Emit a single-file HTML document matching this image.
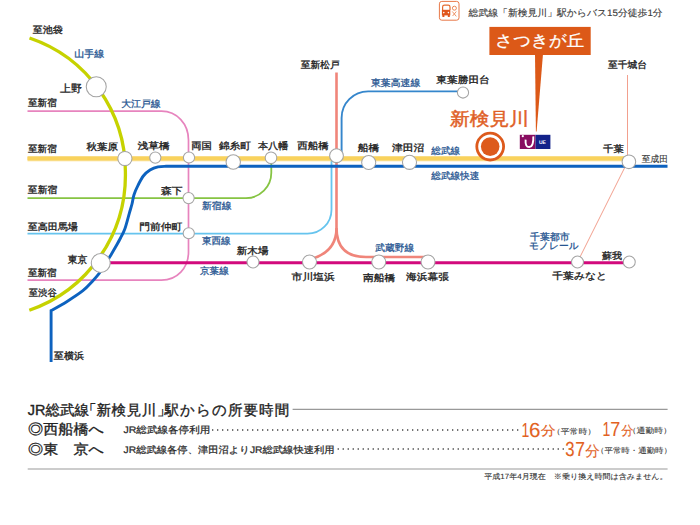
<!DOCTYPE html>
<html lang="ja">
<head>
<meta charset="utf-8">
<style>
html,body{margin:0;padding:0;background:#fff;width:700px;height:525px;overflow:hidden}
svg{display:block;font-family:"Liberation Sans",sans-serif;text-rendering:geometricPrecision}
.k{fill:#222;font-size:10px;stroke:#222;stroke-width:0.25}
.b{fill:#2f5f9c;font-size:10px;stroke:#2f5f9c;stroke-width:0.2}
</style>
</head>
<body>
<svg width="700" height="525" viewBox="0 0 700 525">
<!-- lines -->
<g fill="none" stroke-linecap="butt">
  <!-- Oedo -->
  <path d="M27.5 111.1 H161.5 C177 111.1 188.5 124 188.5 140 V252 C188.5 268 177 280.1 161.5 280.1 H27.5" stroke="#e784be" stroke-width="1.7"/>
  <!-- Shinjuku -->
  <path d="M27.5 198.2 H246 A25.5 25.5 0 0 0 271.3 172.7 V158" stroke="#86c443" stroke-width="1.8"/>
  <!-- Tozai -->
  <path d="M27.5 233.7 H307.5 A24 24 0 0 0 331.5 209.7 V156" stroke="#66c4ee" stroke-width="1.8"/>
  <!-- Toyo -->
  <path d="M341.6 156 V118 A26.5 26.5 0 0 1 368.1 91.4 H463" stroke="#3586cc" stroke-width="1.9"/>
  <!-- Monorail -->
  <path d="M627.5 75 V162 L577.5 262" stroke="#f2a08e" stroke-width="1"/>
  <!-- Musashino -->
  <path d="M336.5 72.5 V228 Q336.5 252 311 259" stroke="#f0857a" stroke-width="2.6"/>
  <path d="M336.5 228 Q336.5 257 366 257 H426" stroke="#f0857a" stroke-width="2.6"/>
  <!-- Keiyo -->
  <path d="M101 262.8 H629" stroke="#d20a7c" stroke-width="3"/>
  <!-- Sobu yellow -->
  <path d="M27.5 158.6 H628" stroke="#f9dc84" stroke-width="5.3"/><path d="M27.5 158.6 H628" stroke="#f9d25c" stroke-width="3"/>
  <!-- Sobu rapid blue -->
  <path d="M51.1 362 V310.6 C53.8 309.1 61.8 304.7 67.1 301.4 C72.4 298.1 78.6 294.1 82.9 290.7 C87.2 287.2 90.3 283.4 92.9 280.7 C95.5 277.9 96.7 276.7 98.6 274.2 C100.5 271.7 102.5 268.6 104.5 265.5 C106.5 262.4 108.5 258.9 110.3 255.9 C112.1 252.9 113.7 250.3 115.4 247.3 C117.1 244.3 119.0 241.0 120.5 238.0 C122.0 235.0 123.2 233.4 124.7 229.3 C126.2 225.2 128.1 217.5 129.3 213.3 C130.5 209.1 131.2 207.1 132.0 204.0 C132.8 200.9 133.0 197.8 134.0 194.7 C135.0 191.6 136.4 188.4 138.0 185.3 C139.6 182.2 141.3 178.6 143.3 176.0 C145.3 173.4 147.6 171.5 150.0 170.0 C152.4 168.5 155.3 167.4 158.0 166.8 C160.7 166.2 164.7 166.4 166.0 166.3 H667.5" stroke="#0d62bf" stroke-width="2.9"/>
  <!-- Yamanote -->
  <path d="M29.5 38 A141.2 141.2 0 0 1 125.4 172.5 A142.95 142.95 0 0 1 29.3 310.2" stroke="#c6d200" stroke-width="3.3"/>
</g>
<!-- stations -->
<g fill="#fff" stroke="#a4a4a4" stroke-width="1.05">
  <circle cx="96.25" cy="86.75" r="10"/>
  <circle cx="124.9" cy="158.5" r="7.1"/>
  <circle cx="155.3" cy="157.6" r="5.6"/>
  <circle cx="189" cy="157.5" r="5.6"/>
  <circle cx="233.25" cy="162" r="7.2"/>
  <circle cx="271" cy="157.75" r="5.8"/>
  <circle cx="336.5" cy="155.7" r="6.9"/>
  <circle cx="368.7" cy="162.5" r="7.05"/>
  <circle cx="409.5" cy="162.3" r="7.05"/>
  <circle cx="628.9" cy="161.8" r="6.8"/>
  <circle cx="463" cy="92.5" r="5.6"/>
  <circle cx="188.6" cy="198.1" r="5.6"/>
  <circle cx="188.75" cy="233.25" r="5.6"/>
  <circle cx="100.75" cy="263" r="9.5"/>
  <circle cx="253" cy="262" r="6"/>
  <circle cx="309.5" cy="262" r="7"/>
  <circle cx="378.75" cy="262" r="7"/>
  <circle cx="428" cy="262" r="7"/>
  <circle cx="577.5" cy="262" r="6"/>
  <circle cx="629.25" cy="262" r="6"/>
</g>
<!-- Shin-kemigawa -->
<circle cx="490.2" cy="146.6" r="13.4" fill="#fff" stroke="#dd5a1c" stroke-width="2.8"/>
<circle cx="490.2" cy="146.6" r="9.3" fill="#dd5a1c"/>
<!-- callout -->
<rect x="489.4" y="26.9" width="101.3" height="28.1" fill="#dc5918"/>
<path d="M535 54 L543 54 L536.6 131.5 L535.9 131.5 Z" fill="#dc5918"/>
<!-- UE logo -->
<rect x="519.8" y="134.8" width="15.7" height="14.2" fill="#880c60"/>
<rect x="535.5" y="134.8" width="14.9" height="14.2" fill="#13228a"/>
<text x="539" y="144" font-size="5" fill="#fff" font-weight="bold" font-family="Liberation Sans">UE</text>
<path d="M525.6 139.6 C525.2 145 526.6 147 529.2 147 C532.6 147 533.6 142 533.3 136.4" fill="none" stroke="#fff" stroke-width="1.9"/>
<circle cx="522.8" cy="136.2" r="1.1" fill="#fff"/>
<!-- bus icon -->
<rect x="439.4" y="1.4" width="19.6" height="18.8" rx="2.4" fill="#fff" stroke="#e87848" stroke-width="1"/>
<path d="M442.6 10 V7 Q442.6 5.2 444.5 5.2 H448.2 Q450 5.2 450 7 V10" fill="none" stroke="#e46a2e" stroke-width="1.2"/>
<rect x="441.9" y="9.8" width="8.4" height="5.6" fill="#e0561c"/>
<rect x="442.4" y="15" width="2" height="2" fill="#e0561c"/>
<rect x="447.8" y="15" width="2" height="2" fill="#e0561c"/>
<circle cx="443.8" cy="12.6" r="0.8" fill="#fff"/>
<circle cx="448.4" cy="12.6" r="0.8" fill="#fff"/>
<circle cx="454.4" cy="8.2" r="2" fill="none" stroke="#e87a45" stroke-width="0.9"/>
<path d="M452.3 11.5 L456.3 16.4 M456.3 11.5 L452.6 16" stroke="#ec8a5a" stroke-width="0.9"/>
<!-- labels -->
<text transform="matrix(1.000 0 0 0.950 32.85 32.85)" font-size="10" fill="#1e1e1e" stroke="#1e1e1e" stroke-width="0.35">至池袋</text>
<text transform="matrix(1.000 0 0 0.950 60.06 92.33)" font-size="11" fill="#1e1e1e" stroke="#1e1e1e" stroke-width="0.35">上野</text>
<text transform="matrix(0.958 0 0 0.950 28.03 106.40)" font-size="10" fill="#1e1e1e" stroke="#1e1e1e" stroke-width="0.35">至新宿</text>
<text transform="matrix(0.958 0 0 0.950 28.03 152.40)" font-size="10" fill="#1e1e1e" stroke="#1e1e1e" stroke-width="0.35">至新宿</text>
<text transform="matrix(1.049 0 0 0.950 86.42 150.28)" font-size="10" fill="#1e1e1e" stroke="#1e1e1e" stroke-width="0.35">秋葉原</text>
<text transform="matrix(1.080 0 0 0.950 137.40 149.32)" font-size="10" fill="#1e1e1e" stroke="#1e1e1e" stroke-width="0.35">浅草橋</text>
<text transform="matrix(1.027 0 0 0.950 191.19 148.85)" font-size="10" fill="#1e1e1e" stroke="#1e1e1e" stroke-width="0.35">両国</text>
<text transform="matrix(1.065 0 0 0.950 218.94 148.85)" font-size="10" fill="#1e1e1e" stroke="#1e1e1e" stroke-width="0.35">錦糸町</text>
<text transform="matrix(1.010 0 0 0.950 258.01 149.32)" font-size="10" fill="#1e1e1e" stroke="#1e1e1e" stroke-width="0.35">本八幡</text>
<text transform="matrix(1.049 0 0 0.950 297.21 149.32)" font-size="10" fill="#1e1e1e" stroke="#1e1e1e" stroke-width="0.35">西船橋</text>
<text transform="matrix(0.974 0 0 0.950 300.67 68.15)" font-size="10" fill="#1e1e1e" stroke="#1e1e1e" stroke-width="0.35">至新松戸</text>
<text transform="matrix(1.071 0 0 0.950 436.26 82.68)" font-size="10" fill="#1e1e1e" stroke="#1e1e1e" stroke-width="0.35">東葉勝田台</text>
<text transform="matrix(1.080 0 0 0.950 357.75 150.52)" font-size="10" fill="#1e1e1e" stroke="#1e1e1e" stroke-width="0.35">船橋</text>
<text transform="matrix(1.080 0 0 0.950 391.94 150.52)" font-size="10" fill="#1e1e1e" stroke="#1e1e1e" stroke-width="0.35">津田沼</text>
<text transform="matrix(0.975 0 0 0.950 607.94 68.45)" font-size="10" fill="#1e1e1e" stroke="#1e1e1e" stroke-width="0.35">至千城台</text>
<text transform="matrix(1.036 0 0 0.950 603.09 152.23)" font-size="10" fill="#1e1e1e" stroke="#1e1e1e" stroke-width="0.35">千葉</text>
<text transform="matrix(0.920 0 0 0.950 641.83 161.52)" font-size="9.5" fill="#3a3a3a" stroke="#3a3a3a" stroke-width="0.15">至成田</text>
<text transform="matrix(0.983 0 0 0.950 27.82 193.40)" font-size="10" fill="#1e1e1e" stroke="#1e1e1e" stroke-width="0.35">至新宿</text>
<text transform="matrix(1.080 0 0 0.950 161.00 193.55)" font-size="10" fill="#1e1e1e" stroke="#1e1e1e" stroke-width="0.35">森下</text>
<text transform="matrix(1.001 0 0 0.950 27.64 229.75)" font-size="10" fill="#1e1e1e" stroke="#1e1e1e" stroke-width="0.35">至高田馬場</text>
<text transform="matrix(1.080 0 0 0.950 139.20 229.95)" font-size="10" fill="#1e1e1e" stroke="#1e1e1e" stroke-width="0.35">門前仲町</text>
<text transform="matrix(0.932 0 0 0.950 67.72 263.45)" font-size="10.5" fill="#1e1e1e" stroke="#1e1e1e" stroke-width="0.35">東京</text>
<text transform="matrix(1.053 0 0 0.950 236.82 253.75)" font-size="10" fill="#1e1e1e" stroke="#1e1e1e" stroke-width="0.35">新木場</text>
<text transform="matrix(0.958 0 0 0.950 27.92 275.70)" font-size="10" fill="#1e1e1e" stroke="#1e1e1e" stroke-width="0.35">至新宿</text>
<text transform="matrix(0.935 0 0 0.950 28.77 295.75)" font-size="10" fill="#1e1e1e" stroke="#1e1e1e" stroke-width="0.35">至渋谷</text>
<text transform="matrix(1.080 0 0 0.950 291.59 280.20)" font-size="10" fill="#1e1e1e" stroke="#1e1e1e" stroke-width="0.35">市川塩浜</text>
<text transform="matrix(1.075 0 0 0.950 362.93 280.70)" font-size="10" fill="#1e1e1e" stroke="#1e1e1e" stroke-width="0.35">南船橋</text>
<text transform="matrix(1.074 0 0 0.950 406.12 280.20)" font-size="10" fill="#1e1e1e" stroke="#1e1e1e" stroke-width="0.35">海浜幕張</text>
<text transform="matrix(1.000 0 0 0.950 602.00 258.80)" font-size="10" fill="#1e1e1e" stroke="#1e1e1e" stroke-width="0.35">蘇我</text>
<text transform="matrix(1.080 0 0 0.950 552.29 278.85)" font-size="10" fill="#1e1e1e" stroke="#1e1e1e" stroke-width="0.35">千葉みなと</text>
<text transform="matrix(1.011 0 0 0.950 53.79 358.85)" font-size="10" fill="#1e1e1e" stroke="#1e1e1e" stroke-width="0.35">至横浜</text>
<text transform="matrix(1.000 0 0 0.950 74.20 57.00)" font-size="10" fill="#265591" stroke="#265591" stroke-width="0.3">山手線</text>
<text transform="matrix(0.987 0 0 0.950 121.22 106.70)" font-size="10" fill="#265591" stroke="#265591" stroke-width="0.3">大江戸線</text>
<text transform="matrix(0.989 0 0 0.950 370.92 85.68)" font-size="10" fill="#265591" stroke="#265591" stroke-width="0.3">東葉高速線</text>
<text transform="matrix(0.958 0 0 0.950 431.33 153.65)" font-size="10" fill="#265591" stroke="#265591" stroke-width="0.3">総武線</text>
<text transform="matrix(0.960 0 0 0.950 431.30 178.95)" font-size="10" fill="#265591" stroke="#265591" stroke-width="0.3">総武線快速</text>
<text transform="matrix(0.983 0 0 0.950 202.00 209.28)" font-size="10" fill="#265591" stroke="#265591" stroke-width="0.3">新宿線</text>
<text transform="matrix(0.958 0 0 0.950 201.89 243.90)" font-size="10" fill="#265591" stroke="#265591" stroke-width="0.3">東西線</text>
<text transform="matrix(0.958 0 0 0.950 199.99 274.38)" font-size="10" fill="#265591" stroke="#265591" stroke-width="0.3">京葉線</text>
<text transform="matrix(0.969 0 0 0.950 375.33 250.57)" font-size="10" fill="#265591" stroke="#265591" stroke-width="0.3">武蔵野線</text>
<text transform="matrix(0.987 0 0 0.950 530.06 239.75)" font-size="10" fill="#265591" stroke="#265591" stroke-width="0.3">千葉都市</text>
<text transform="matrix(0.974 0 0 0.950 529.07 248.85)" font-size="10" fill="#265591" stroke="#265591" stroke-width="0.3">モノレール</text>
<text transform="matrix(0.997 0 0 0.900 495.34 46.30)" font-size="17.5" fill="#fff" stroke="#fff" stroke-width="0.3">さつきが丘</text>
<text transform="matrix(0.987 0 0 0.900 450.12 125.15)" font-size="20" fill="#df5f26" stroke="#df5f26" stroke-width="0.5">新検見川</text>
<text transform="matrix(0.982 0 0 0.950 468.60 16.00)" font-size="10" fill="#3a3a3a" stroke="#3a3a3a" stroke-width="0.15">総武線「新検見川」駅からバス15分徒歩1分</text>
<text transform="matrix(1.009 0 0 0.957 28.00 433.59)" font-size="15" fill="#222" stroke="#222" stroke-width="0.35">◎西船橋へ</text>
<text transform="matrix(1.009 0 0 0.920 28.00 453.56)" font-size="15" fill="#222" stroke="#222" stroke-width="0.35">◎東　京へ</text>
<text transform="matrix(1.056 0 0 0.950 123.42 433.38)" font-size="10" fill="#2a2a2a" stroke="#2a2a2a" stroke-width="0.25">JR総武線各停利用</text>
<text transform="matrix(1.030 0 0 0.950 123.54 452.85)" font-size="10" fill="#2a2a2a" stroke="#2a2a2a" stroke-width="0.25">JR総武線各停、津田沼よりJR総武線快速利用</text>
<text transform="matrix(1.004 0 0 0.950 484.23 479.10)" font-size="8" fill="#333" stroke="#333" stroke-width="0.1">平成17年4月現在　※乗り換え時間は含みません。</text>
<text transform="matrix(0.700 0 0 1.021 521.45 436.60)" font-size="20" fill="#e2621f" stroke="#e2621f" stroke-width="0.1">1</text>
<text transform="matrix(1.027 0 0 1.021 529.00 436.60)" font-size="20" fill="#e2621f" stroke="#e2621f" stroke-width="0.1">6</text>
<text transform="matrix(1.077 0 0 0.923 540.76 434.85)" font-size="14" fill="#e2621f" stroke="#e2621f" stroke-width="0.1">分</text>
<text transform="matrix(0.700 0 0 1.021 602.55 435.70)" font-size="20" fill="#e2621f" stroke="#e2621f" stroke-width="0.1">1</text>
<text transform="matrix(0.897 0 0 1.021 610.28 435.70)" font-size="20" fill="#e2621f" stroke="#e2621f" stroke-width="0.1">7</text>
<text transform="matrix(0.886 0 0 0.923 621.28 434.65)" font-size="14" fill="#e2621f" stroke="#e2621f" stroke-width="0.1">分</text>
<text transform="matrix(0.837 0 0 1.014 565.33 455.60)" font-size="20" fill="#e2621f" stroke="#e2621f" stroke-width="0.1">3</text>
<text transform="matrix(0.875 0 0 1.014 575.15 455.60)" font-size="20" fill="#e2621f" stroke="#e2621f" stroke-width="0.1">7</text>
<text transform="matrix(1.040 0 0 1.038 585.19 455.62)" font-size="14" fill="#e2621f" stroke="#e2621f" stroke-width="0.1">分</text>
<text transform="matrix(1.100 0 0 0.950 552.00 433.82)" font-size="8" fill="#3a3a3a" stroke="#3a3a3a" stroke-width="0.1">（平常時）</text>
<text transform="matrix(1.100 0 0 0.950 627.80 433.30)" font-size="8" fill="#3a3a3a" stroke="#3a3a3a" stroke-width="0.1">（通勤時）</text>
<text transform="matrix(1.056 0 0 0.950 595.98 452.95)" font-size="8" fill="#3a3a3a" stroke="#3a3a3a" stroke-width="0.1">（平常時・通勤時）</text>
<!-- bottom -->
<text y="415.3" font-size="14.5" fill="#222" stroke="#222" stroke-width="0.35"><tspan x="27.7">JR総武線</tspan><tspan x="82">「</tspan><tspan x="96.5" letter-spacing="0.6">新検見川」</tspan><tspan x="164.5" letter-spacing="1.1">駅からの所要時間</tspan></text>
<line x1="292.6" y1="409.3" x2="667.6" y2="409.3" stroke="#999" stroke-width="1.2"/>
<line x1="212" y1="430" x2="520" y2="430" stroke="#444" stroke-width="1.3" stroke-dasharray="1.3 3.7"/>
<line x1="337.6" y1="449" x2="564" y2="449" stroke="#444" stroke-width="1.3" stroke-dasharray="1.3 3.7"/>
<line x1="27.7" y1="469" x2="667.6" y2="469" stroke="#999" stroke-width="1.2"/>
</svg>
</body>
</html>
